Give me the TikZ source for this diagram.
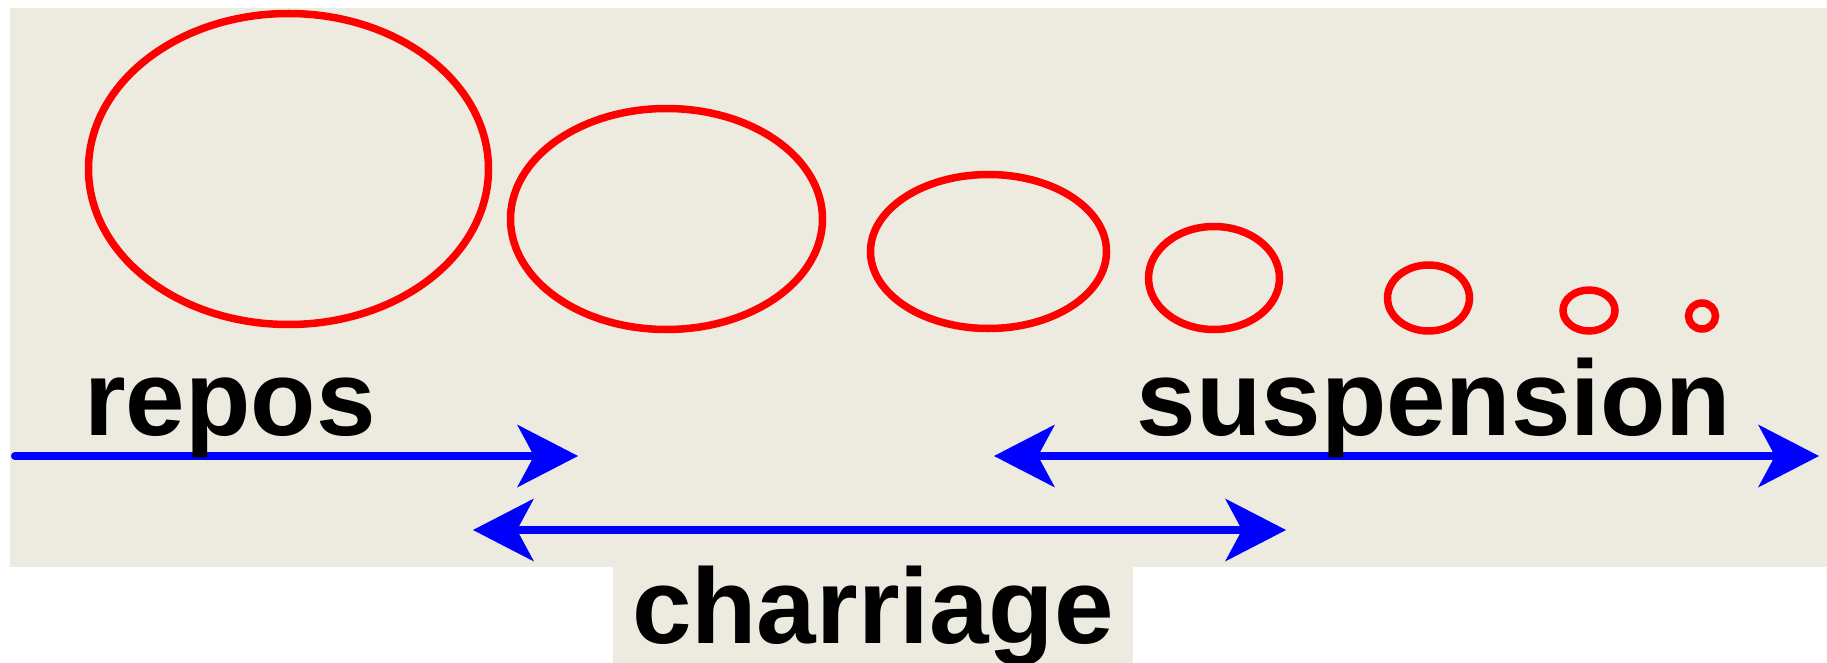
\documentclass[tikz,border=0pt]{standalone}
\usepackage{fontspec}
\setmainfont{Liberation Sans}
\usetikzlibrary{arrows.meta}
\definecolor{bgcol}{RGB}{237,235,224}
\begin{document}
\begin{tikzpicture}[x=1pt,y=-1pt,
  ring/.style={draw=red,line width=7.5pt},
  flow/.style={draw=blue,line width=8pt,line cap=round,-{Stealth[length=61pt,width=63pt,inset=17pt,line width=0pt]}},
  flowtwo/.style={draw=blue,line width=8pt,{Stealth[length=61pt,width=63pt,inset=17pt,line width=0pt]}-{Stealth[length=61pt,width=63pt,inset=17pt,line width=0pt]}},
  lbl/.style={anchor=base,inner sep=0pt,font=\fontsize{107}{120}\selectfont\bfseries}]
\useasboundingbox (0,0) rectangle (1827,663);
% background panels
\fill[bgcol] (10,8) rectangle (1827,567);
\fill[bgcol] (613,567) rectangle (1133,663);
% particles / bubbles
\draw[ring] (288.5,169) ellipse [x radius=200pt, y radius=155.5pt];
\draw[ring] (666.5,219) ellipse [x radius=156pt, y radius=110.5pt];
\draw[ring] (988.5,251.5) ellipse [x radius=118pt, y radius=77pt];
\draw[ring] (1214,278) ellipse [x radius=65.5pt, y radius=51.5pt];
\draw[ring] (1428.5,298) ellipse [x radius=41pt, y radius=33pt];
\draw[ring] (1589,310.5) ellipse [x radius=26pt, y radius=20.5pt];
\draw[ring] (1702,316) ellipse [x radius=13.5pt, y radius=13pt];
% arrow end points
\coordinate (r0) at (15,456);
\coordinate (r1) at (578,456);
\coordinate (c0) at (473,530);
\coordinate (c1) at (1286,530);
\coordinate (s0) at (994,456);
\coordinate (s1) at (1819,456);
\draw[flow] (r0) -- (r1);
\draw[flowtwo] (c0) -- (c1);
\draw[flowtwo] (s0) -- (s1);
% labels
\node[lbl] (repos) at (230,435) {repos};
\node[lbl] (susp) at (1434,435) {suspension};
\node[lbl] (charr) at (873,643) {charriage};
\end{tikzpicture}
\end{document}
